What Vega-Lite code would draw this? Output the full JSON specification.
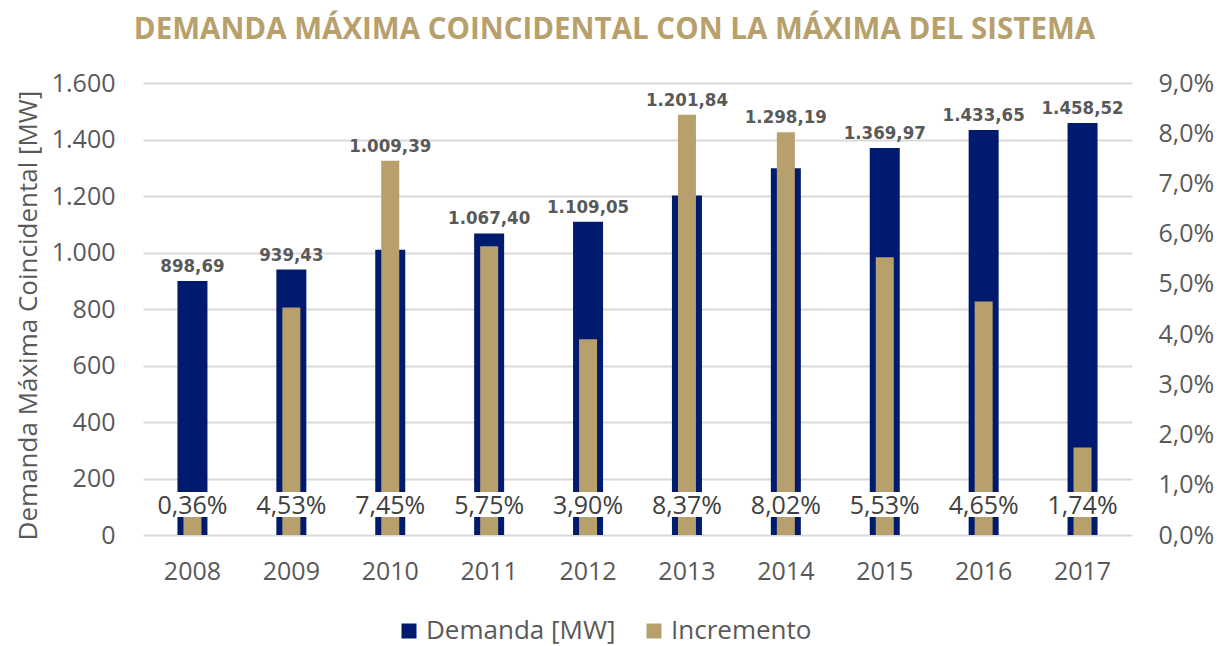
{
  "$schema": "https://vega.github.io/schema/vega-lite/v6.json",
  "width": 989,
  "height": 452,
  "autosize": {"type": "none"},
  "padding": {"left": 143, "top": 83, "right": 87, "bottom": 111},
  "background": "white",
  "title": {
    "text": "DEMANDA MÁXIMA COINCIDENTAL CON LA MÁXIMA DEL SISTEMA",
    "font": "Open Sans",
    "fontSize": 29.5,
    "fontWeight": "bold",
    "color": "#B8A06C",
    "anchor": "middle",
    "dx": -23,
    "offset": 26
  },
  "data": {
    "values": [
      {"year": "2008", "demanda": 898.69, "incremento": 0.0036},
      {"year": "2009", "demanda": 939.43, "incremento": 0.0453},
      {"year": "2010", "demanda": 1009.39, "incremento": 0.0745},
      {"year": "2011", "demanda": 1067.40, "incremento": 0.0575},
      {"year": "2012", "demanda": 1109.05, "incremento": 0.0390},
      {"year": "2013", "demanda": 1201.84, "incremento": 0.0837},
      {"year": "2014", "demanda": 1298.19, "incremento": 0.0802},
      {"year": "2015", "demanda": 1369.97, "incremento": 0.0553},
      {"year": "2016", "demanda": 1433.65, "incremento": 0.0465},
      {"year": "2017", "demanda": 1458.52, "incremento": 0.0174}
    ]
  },
  "encoding": {
    "x": {
      "field": "year",
      "type": "ordinal",
      "scale": {"paddingInner": 0, "paddingOuter": 0},
      "axis": {"title": null, "labelAngle": 0, "labelPadding": 24, "grid": false}
    }
  },
  "layer": [
    {
      "mark": {"type": "bar", "width": 30},
      "encoding": {
        "y": {
          "field": "demanda",
          "type": "quantitative",
          "scale": {"domain": [0, 1600], "nice": false},
          "axis": {
            "title": "Demanda Máxima Coincidental [MW]",
            "titleFont": "Open Sans",
            "titleFontSize": 26,
            "titleFontWeight": "normal",
            "titleColor": "#595959",
            "titlePadding": 10,
            "titleY": 232,
            "format": ",.0f",
            "values": [0, 200, 400, 600, 800, 1000, 1200, 1400, 1600],
            "grid": true,
            "gridColor": "#D9D9D9",
            "gridWidth": 2,
            "labelPadding": 28
          }
        },
        "color": {
          "datum": "Demanda [MW]",
          "scale": {"domain": ["Demanda [MW]", "Incremento"], "range": ["#001A6E", "#B8A06C"]},
          "legend": {
            "title": null,
            "orient": "none",
            "direction": "horizontal",
            "legendX": 253,
            "legendY": 535,
            "symbolType": "square",
            "symbolSize": 225,
            "symbolStrokeWidth": 0,
            "labelFont": "Open Sans",
            "labelFontSize": 26,
            "labelColor": "#595959",
            "labelOffset": 4,
            "labelLimit": 400,
            "columnPadding": 25
          }
        }
      }
    },
    {
      "mark": {"type": "bar", "width": 18},
      "encoding": {
        "y": {
          "field": "incremento",
          "type": "quantitative",
          "scale": {"domain": [0, 0.09], "nice": false},
          "axis": {
            "title": null,
            "orient": "right",
            "format": ".1%",
            "values": [0, 0.01, 0.02, 0.03, 0.04, 0.05, 0.06, 0.07, 0.08, 0.09],
            "grid": false,
            "labelPadding": 26
          }
        },
        "color": {"datum": "Incremento"}
      }
    },
    {
      "transform": [
        {"calculate": "max(datum.demanda, datum.incremento * 1600 / 0.09)", "as": "labelY"}
      ],
      "layer": [
        {
          "mark": {"type": "bar", "width": 76, "color": "white"},
          "encoding": {
            "y": {"datum": 64, "type": "quantitative", "scale": {"domain": [0, 1600], "nice": false}, "axis": null},
            "y2": {"datum": 152}
          }
        },
        {
          "mark": {"type": "text", "font": "Open Sans", "fontSize": 25, "color": "#404040", "baseline": "middle", "align": "center"},
          "encoding": {
            "y": {"datum": 103, "type": "quantitative"},
            "text": {"field": "incremento", "type": "quantitative", "format": ".2%"}
          }
        },
        {
          "mark": {"type": "text", "font": "DejaVu Sans Condensed, Open Sans, sans-serif", "fontWeight": "bold", "fontSize": 18.5, "color": "#595959", "baseline": "bottom", "align": "center", "dy": -5},
          "encoding": {
            "y": {"field": "labelY", "type": "quantitative"},
            "text": {"field": "demanda", "type": "quantitative", "format": ",.2f"}
          }
        }
      ]
    }
  ],
  "resolve": {"scale": {"y": "independent"}},
  "config": {
    "view": {"stroke": null},
    "locale": {
      "number": {"decimal": ",", "thousands": ".", "grouping": [3], "currency": ["$", ""]}
    },
    "axis": {
      "labelFont": "Open Sans",
      "labelFontSize": 25,
      "labelColor": "#595959",
      "domain": false,
      "ticks": false
    }
  }
}
